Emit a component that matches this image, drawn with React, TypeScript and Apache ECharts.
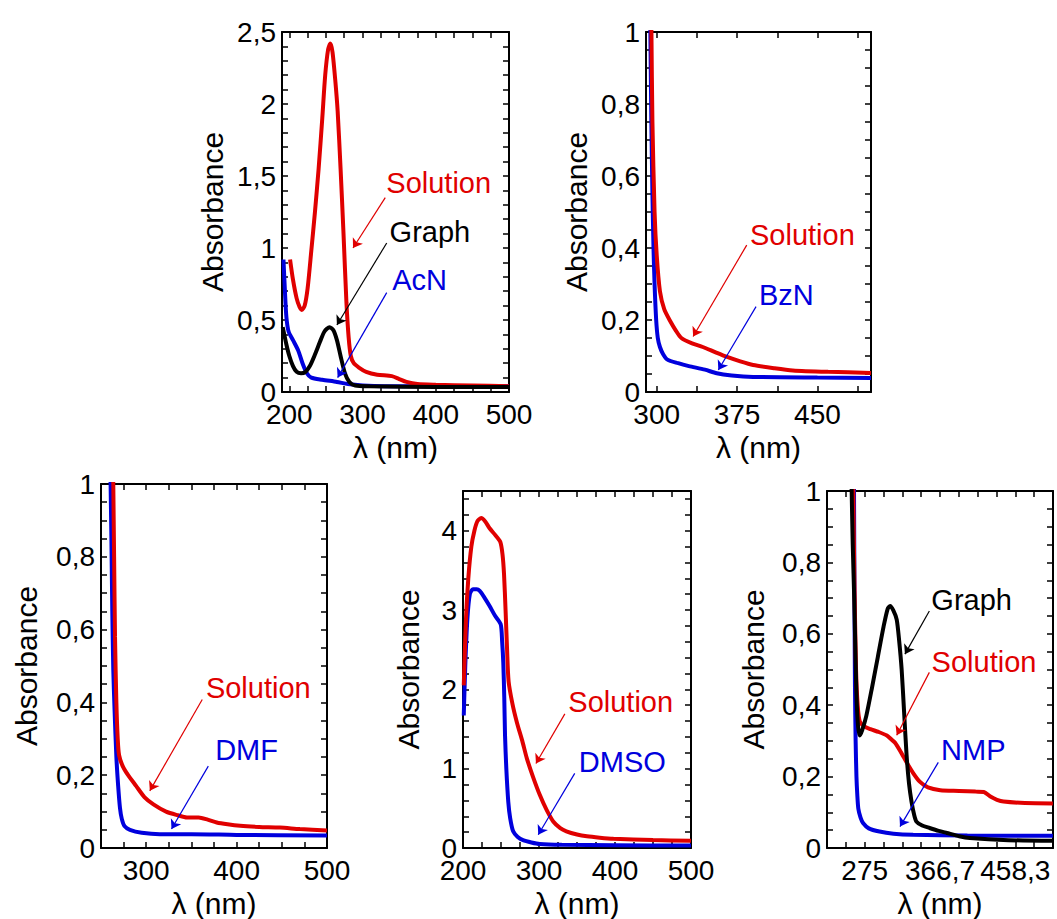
import React, { useEffect, useRef } from "react";
import * as echarts from "echarts";

const FONT = '"Liberation Sans", Arial, Helvetica, sans-serif';
const RED = "#e00000";
const BLUE = "#0000dd";
const BLACK = "#000000";

// ---------- Panel 1 : AcN ----------
const acnSolution: [number, number][] = [[201,0.92],[205,0.78],[210,0.65],[214,0.59],[217,0.57],[221,0.6],[225,0.72],[230,0.98],[235,1.25],[240,1.55],[245,1.9],[249,2.2],[253,2.38],[256,2.42],[259,2.36],[263,2.15],[266,1.95],[270,1.55],[274,1.1],[278,0.62],[281,0.38],[284,0.25],[288,0.2],[295,0.17],[305,0.14],[320,0.12],[340,0.11],[350,0.09],[360,0.07],[375,0.055],[400,0.05],[450,0.045],[500,0.04]];
const acnGraph: [number, number][] = [[191,0.45],[196,0.33],[200,0.25],[205,0.18],[210,0.14],[216,0.13],[222,0.14],[228,0.18],[235,0.26],[242,0.35],[248,0.42],[255,0.45],[260,0.43],[265,0.36],[270,0.25],[276,0.13],[282,0.07],[290,0.045],[310,0.04],[400,0.035],[500,0.035]];
const acnSolvent: [number, number][] = [[192,0.92],[194,0.7],[196,0.52],[199,0.42],[205,0.36],[212,0.29],[218,0.2],[224,0.13],[230,0.1],[245,0.085],[265,0.07],[280,0.055],[300,0.045],[330,0.04],[500,0.04]];

// ---------- Panel 2 : BzN ----------
const bznSolution: [number, number][] = [[295,1.02],[296,0.75],[298,0.5],[300,0.38],[303,0.28],[307,0.23],[312,0.2],[318,0.17],[323,0.15],[333,0.135],[343,0.125],[355,0.11],[365,0.098],[378,0.085],[390,0.075],[410,0.066],[427,0.06],[460,0.056],[500,0.053]];
const bznSolvent: [number, number][] = [[294,1.02],[295,0.75],[296,0.55],[297,0.4],[298,0.3],[299.5,0.2],[301,0.15],[303,0.125],[306,0.105],[310,0.09],[320,0.08],[330,0.072],[345,0.062],[356,0.052],[370,0.046],[390,0.042],[450,0.04],[500,0.039]];

// ---------- Panel 3 : DMF ----------
const dmfSolution: [number, number][] = [[263.5,1.02],[264.5,0.8],[265.5,0.58],[267,0.4],[268.5,0.3],[270,0.255],[274,0.225],[280,0.2],[289,0.17],[298,0.14],[308,0.12],[322,0.1],[335,0.09],[345,0.084],[358,0.084],[368,0.078],[378,0.07],[390,0.065],[404,0.061],[425,0.058],[448,0.056],[470,0.052],[500,0.048]];
const dmfSolvent: [number, number][] = [[260.5,1.02],[261.5,0.85],[262.5,0.65],[263.6,0.49],[265,0.38],[267,0.25],[269,0.17],[271,0.11],[273,0.08],[276,0.06],[282,0.05],[295,0.042],[315,0.038],[350,0.038],[400,0.036],[500,0.034]];

// ---------- Panel 4 : DMSO ----------
const dmsoSolution: [number, number][] = [[201,2.05],[204,2.9],[207,3.4],[211,3.8],[215,4.0],[219,4.12],[224,4.16],[229,4.12],[235,4.03],[242,3.95],[249,3.86],[252,3.7],[254,3.45],[256,3.0],[258,2.5],[260,2.1],[265,1.82],[271,1.58],[278,1.35],[284,1.13],[292,0.9],[301,0.67],[310,0.48],[319,0.33],[328,0.25],[336,0.21],[350,0.17],[363,0.147],[380,0.13],[398,0.117],[450,0.1],[500,0.09]];
const dmsoSolvent: [number, number][] = [[201,1.67],[203,2.3],[205.7,2.88],[209,3.2],[213,3.26],[218,3.26],[222,3.24],[228,3.16],[235,3.05],[242,2.93],[249.6,2.82],[251.5,2.6],[253,2.34],[254.3,1.9],[255.3,1.42],[257,1.0],[259.6,0.58],[262,0.38],[266,0.21],[272,0.14],[279,0.1],[290,0.07],[301,0.05],[330,0.04],[400,0.035],[500,0.03]];

// ---------- Panel 5 : NMP ----------
const nmpSolution: [number, number][] = [[261,1.02],[262.5,0.75],[264.5,0.5],[266.5,0.4],[269,0.355],[275,0.34],[282,0.333],[292,0.325],[302,0.315],[307,0.305],[312,0.295],[320,0.265],[326,0.24],[334,0.21],[342,0.186],[352,0.17],[367,0.162],[390,0.16],[410,0.158],[420,0.157],[428,0.144],[436,0.135],[444,0.13],[470,0.126],[504,0.125]];
const nmpGraph: [number, number][] = [[259,1.02],[260.5,0.85],[262.4,0.69],[264,0.52],[265.3,0.41],[267,0.34],[269,0.315],[272,0.33],[277,0.37],[284,0.45],[291,0.535],[298,0.62],[303,0.67],[306,0.678],[310,0.665],[314,0.64],[317,0.58],[320,0.5],[323,0.38],[326,0.26],[329,0.18],[332,0.13],[335,0.095],[338,0.074],[345,0.063],[354,0.056],[365,0.048],[375,0.042],[390,0.033],[403,0.028],[450,0.022],[504,0.02]];
const nmpSolvent: [number, number][] = [[262,1.02],[262.6,0.7],[263.2,0.45],[264,0.3],[265,0.2],[266,0.15],[267.3,0.11],[270,0.085],[273,0.07],[280,0.055],[293,0.046],[310,0.04],[334,0.037],[400,0.035],[504,0.034]];

// ---------- Axis tick labels ----------
const x1Labels = [200, 300, 400, 500];
const y1Labels = [0, 0.5, 1, 1.5, 2, 2.5];
const x2Labels = [300, 375, 450];
const yUnitLabels = [0, 0.2, 0.4, 0.6, 0.8, 1];
const x3Labels = [300, 400, 500];
const x4Labels = [200, 300, 400, 500];
const y4Labels = [0, 1, 2, 3, 4];
const x5Labels = [275, 366.6667, 458.3333];

const steps = (a: number, b: number, s: number) => {
  const out: number[] = [];
  const n = Math.round((b - a) / s);
  for (let i = 0; i <= n; i++) out.push(+(a + i * s).toFixed(4));
  return out;
};

const fmt = (v: number) => String(Math.round(v * 10) / 10).replace(".", ",");

type Ann = { text: string; at: [number, number]; from: [number, number]; to: [number, number] };
type Curve = { data: [number, number][]; color: string; ann?: Ann };
type Panel = {
  grid: { left: number; top: number; width: number; height: number };
  xMin: number; xMax: number; xLabels: number[]; xTicks: number[];
  yMin: number; yMax: number; yLabels: number[]; yTicks: number[];
  yNameGap: number;
  curves: Curve[];
};

const panels: Panel[] = [
  {
    grid: { left: 282, top: 32, width: 227, height: 360 },
    xMin: 190, xMax: 500, xLabels: x1Labels, xTicks: steps(200, 500, 25),
    yMin: 0, yMax: 2.5, yLabels: y1Labels, yTicks: steps(0, 2.5, 0.1),
    yNameGap: 55,
    curves: [
      { data: acnSolution, color: RED, ann: { text: "Solution", at: [404, 1.45], from: [331, 1.35], to: [287, 1.0] } },
      { data: acnSolvent, color: BLUE, ann: { text: "AcN", at: [378, 0.78], from: [333, 0.69], to: [266, 0.1] } },
      { data: acnGraph, color: BLACK, ann: { text: "Graph", at: [392, 1.11], from: [333, 1.035], to: [265, 0.465] } },
    ],
  },
  {
    grid: { left: 646, top: 32, width: 225, height: 360 },
    xMin: 290, xMax: 500, xLabels: x2Labels, xTicks: steps(300, 487.5, 37.5),
    yMin: 0, yMax: 1, yLabels: yUnitLabels, yTicks: steps(0, 1, 0.05),
    yNameGap: 55,
    curves: [
      { data: bznSolution, color: RED, ann: { text: "Solution", at: [436, 0.436], from: [384, 0.408], to: [334, 0.154] } },
      { data: bznSolvent, color: BLUE, ann: { text: "BzN", at: [421, 0.27], from: [392.7, 0.237], to: [357.5, 0.061] } },
    ],
  },
  {
    grid: { left: 101, top: 484, width: 226, height: 365 },
    xMin: 250, xMax: 500, xLabels: x3Labels, xTicks: steps(275, 500, 25),
    yMin: 0, yMax: 1, yLabels: yUnitLabels, yTicks: steps(0, 1, 0.05),
    yNameGap: 60,
    curves: [
      { data: dmfSolution, color: RED, ann: { text: "Solution", at: [424, 0.44], from: [362, 0.408], to: [304, 0.157] } },
      { data: dmfSolvent, color: BLUE, ann: { text: "DMF", at: [411, 0.27], from: [368.7, 0.225], to: [328, 0.052] } },
    ],
  },
  {
    grid: { left: 463, top: 491, width: 228, height: 359 },
    xMin: 200, xMax: 500, xLabels: x4Labels, xTicks: steps(225, 475, 25),
    yMin: 0, yMax: 4.5, yLabels: y4Labels, yTicks: steps(0, 4.4, 0.2),
    yNameGap: 40,
    curves: [
      { data: dmsoSolution, color: RED, ann: { text: "Solution", at: [407.5, 1.84], from: [334, 1.69], to: [296, 1.065] } },
      { data: dmsoSolvent, color: BLUE, ann: { text: "DMSO", at: [409.6, 1.09], from: [347, 0.94], to: [299, 0.167] } },
    ],
  },
  {
    grid: { left: 827, top: 491, width: 226, height: 359 },
    xMin: 229.1667, xMax: 504.1667, xLabels: x5Labels, xTicks: steps(252.0833, 481.25, 22.9167),
    yMin: 0, yMax: 1, yLabels: yUnitLabels, yTicks: steps(0, 1, 0.05),
    yNameGap: 59,
    curves: [
      { data: nmpSolution, color: RED, ann: { text: "Solution", at: [420.2, 0.522], from: [353.7, 0.492], to: [314, 0.316] } },
      { data: nmpSolvent, color: BLUE, ann: { text: "NMP", at: [407.2, 0.274], from: [364.6, 0.24], to: [318, 0.06] } },
      { data: nmpGraph, color: BLACK, ann: { text: "Graph", at: [405.2, 0.696], from: [353.7, 0.664], to: [324, 0.543] } },
    ],
  },
];

function buildOption() {
  const grid: any[] = [];
  const xAxis: any[] = [];
  const yAxis: any[] = [];
  const series: any[] = [];
  const axisLine = { show: true, onZero: false, lineStyle: { color: "#000", width: 2 } };
  const tick = (vals: number[]) => ({ show: true, inside: true, length: 6, lineStyle: { color: "#000", width: 1.5 }, customValues: vals });
  panels.forEach((p, i) => {
    grid.push({ ...p.grid, containLabel: false, show: false });
    const xBase = {
      type: "value", gridIndex: i, min: p.xMin, max: p.xMax,
      splitLine: { show: false }, axisLine,
    };
    xAxis.push({
      ...xBase, position: "bottom",
      axisTick: tick(p.xTicks),
      axisLabel: { show: true, customValues: p.xLabels, formatter: (v: number) => fmt(v), fontFamily: FONT, fontSize: 28, lineHeight: 22, color: "#000", margin: 11, hideOverlap: false },
      name: "λ (nm)", nameLocation: "middle", nameGap: 40,
      nameTextStyle: { fontFamily: FONT, fontSize: 30, color: "#000" },
    });
    xAxis.push({
      ...xBase, position: "top",
      axisTick: tick(p.xTicks),
      axisLabel: { show: false },
    });
    const yBase = {
      type: "value", gridIndex: i, min: p.yMin, max: p.yMax,
      splitLine: { show: false }, axisLine,
    };
    yAxis.push({
      ...yBase, position: "left",
      axisTick: tick(p.yTicks),
      axisLabel: { show: true, customValues: p.yLabels, formatter: (v: number) => fmt(v), fontFamily: FONT, fontSize: 28, lineHeight: 20, color: "#000", margin: 6 },
      name: "Absorbance", nameLocation: "middle", nameGap: p.yNameGap, nameRotate: 90,
      nameTextStyle: { fontFamily: FONT, fontSize: 30, color: "#000" },
    });
    yAxis.push({
      ...yBase, position: "right",
      axisTick: tick(p.yTicks),
      axisLabel: { show: false },
    });
    p.curves.forEach((c) => {
      const s: any = {
        type: "line", xAxisIndex: 2 * i, yAxisIndex: 2 * i, data: c.data,
        showSymbol: false, symbol: "none", smooth: 0.25, clip: true,
        lineStyle: { color: c.color, width: 4 }, itemStyle: { color: c.color },
        z: c.color === BLACK ? 4 : c.color === RED ? 3 : 2,
      };
      if (c.ann) {
        s.markPoint = {
          silent: true, symbol: "rect", symbolSize: 1,
          itemStyle: { color: "rgba(0,0,0,0)" },
          data: [{ coord: c.ann.at, value: c.ann.text }],
          label: { show: true, position: "inside", formatter: c.ann.text, fontFamily: FONT, fontSize: 29, color: c.color },
        };
        s.markLine = {
          silent: true, symbol: ["none", "arrow"], symbolSize: 9,
          lineStyle: { color: c.color, width: 1.2, type: "solid" },
          label: { show: false },
          data: [[{ coord: c.ann.from }, { coord: c.ann.to }]],
        };
      }
      series.push(s);
    });
  });
  return { animation: false, backgroundColor: "#fff", grid, xAxis, yAxis, series };
}

export default function App() {
  const ref = useRef<HTMLDivElement>(null);
  useEffect(() => {
    if (!ref.current) return;
    const chart = echarts.init(ref.current, null, { renderer: "svg" });
    chart.setOption(buildOption() as any);
    return () => chart.dispose();
  }, []);
  return (
    <div
      ref={ref}
      style={{ position: "absolute", left: 0, top: 0, width: 1057, height: 919, background: "#fff" }}
    />
  );
}
